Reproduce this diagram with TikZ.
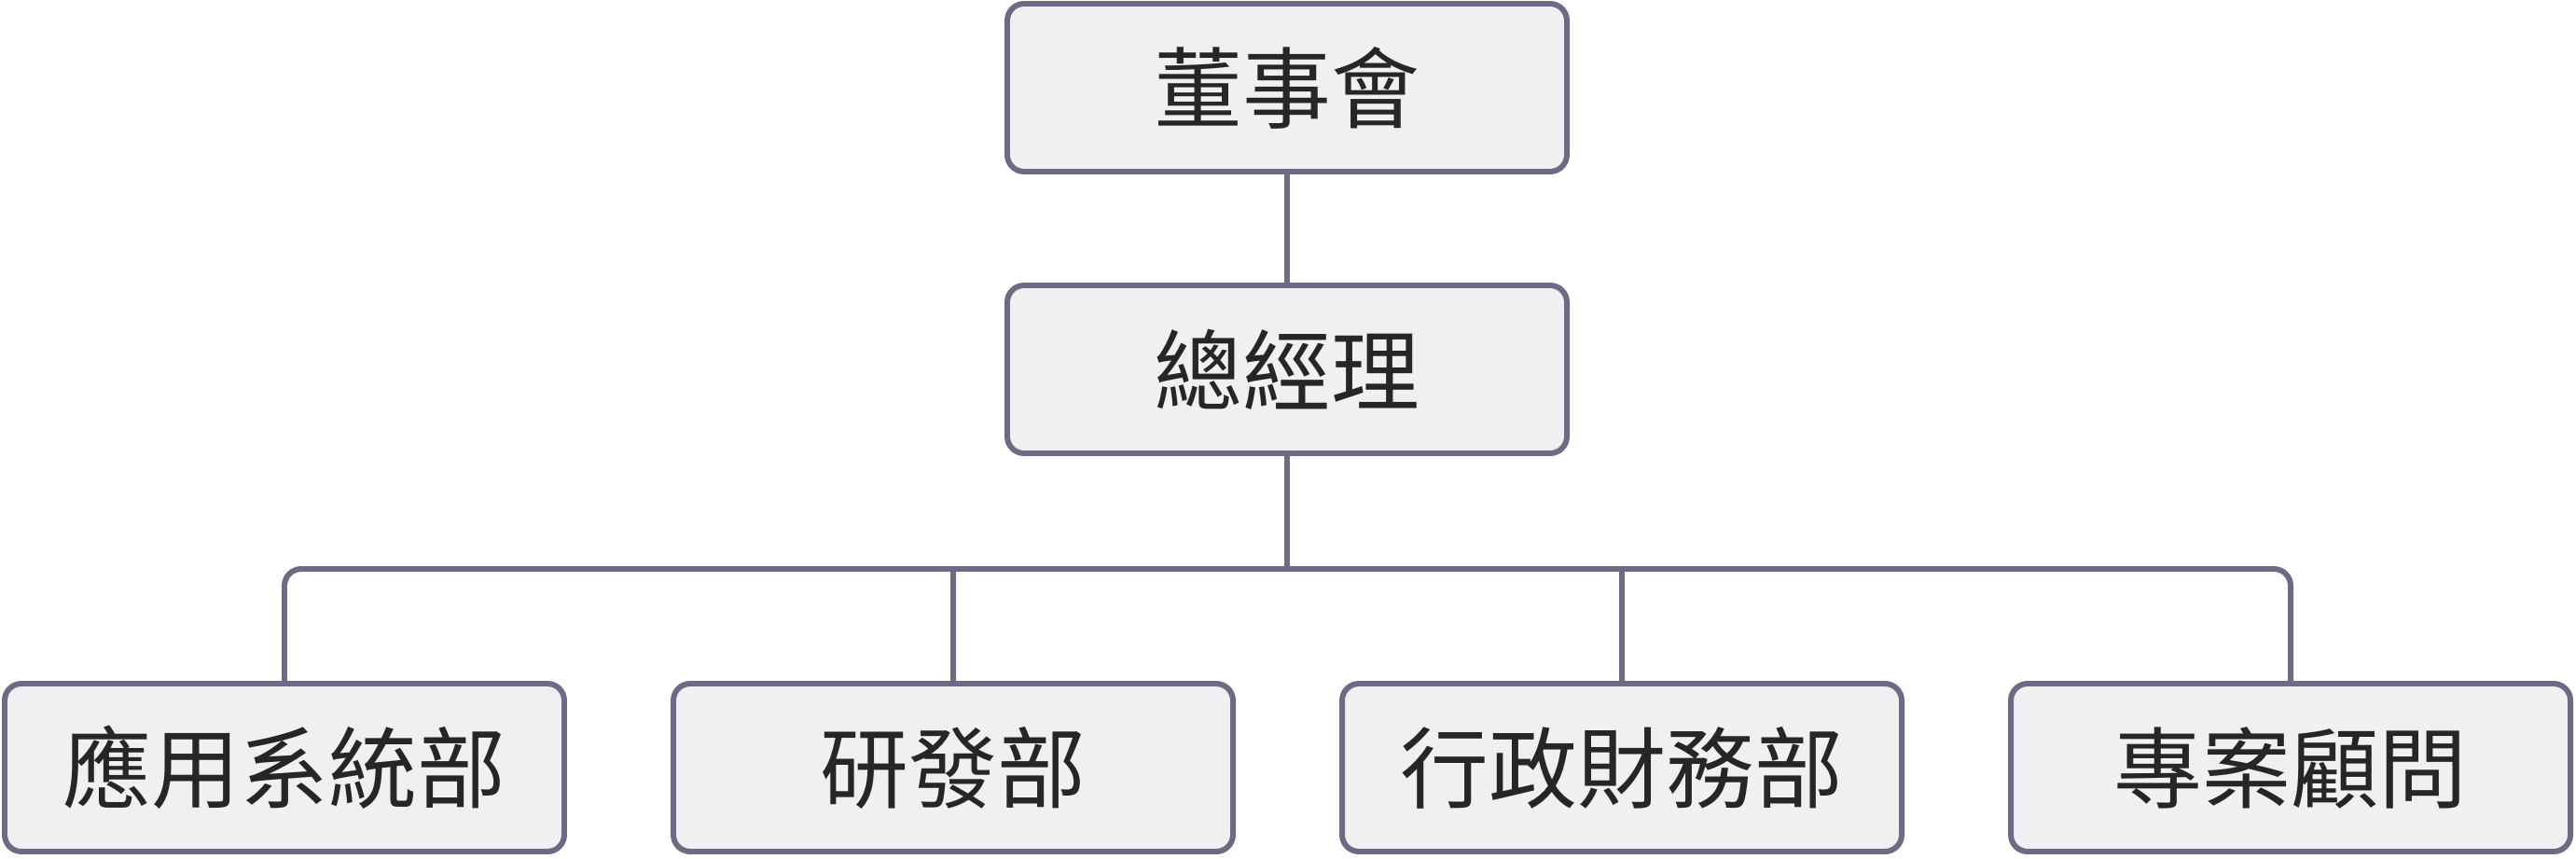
\documentclass[tikz,border=0pt]{standalone}
\usepackage{fontspec}
\newfontfamily\cjk{Noto Sans CJK TC}
\definecolor{boxfill}{HTML}{F0F0F3}
\definecolor{boxline}{HTML}{6E6A86}
\tikzset{
	unit/.style={draw=boxline, fill=boxfill, line width=1.7pt, rounded corners=0.18cm,
		minimum width=6.0cm, minimum height=1.8cm, font=\cjk\fontsize{27}{30}\selectfont, text=black!85},
	link/.style={draw=boxline, line width=1.7pt, rounded corners=0.18cm}
}
\begin{document}
\begin{tikzpicture}
	\useasboundingbox (0,0) rectangle (27.62,9.2);

	\draw (13.8,8.26) node[unit] (board) {董事會};
	\draw (13.8,5.24) node[unit] (gm) {總經理};

	\draw (3.05,0.97) node[unit] (app) {應用系統部};
	\draw (10.22,0.97) node[unit] (rd) {研發部};
	\draw (17.39,0.97) node[unit] (admin) {行政財務部};
	\draw (24.56,0.97) node[unit] (advisor) {專案顧問};

	\coordinate (bus) at (13.8,3.1);

	\draw [link] (board) -- (gm);
	\draw [link] (gm) -- (bus);
	\draw [link] (app.north) |- (bus) -| (advisor.north);
	\draw [link] (rd.north) -- (rd.north |- bus);
	\draw [link] (admin.north) -- (admin.north |- bus);
\end{tikzpicture}
\end{document}
